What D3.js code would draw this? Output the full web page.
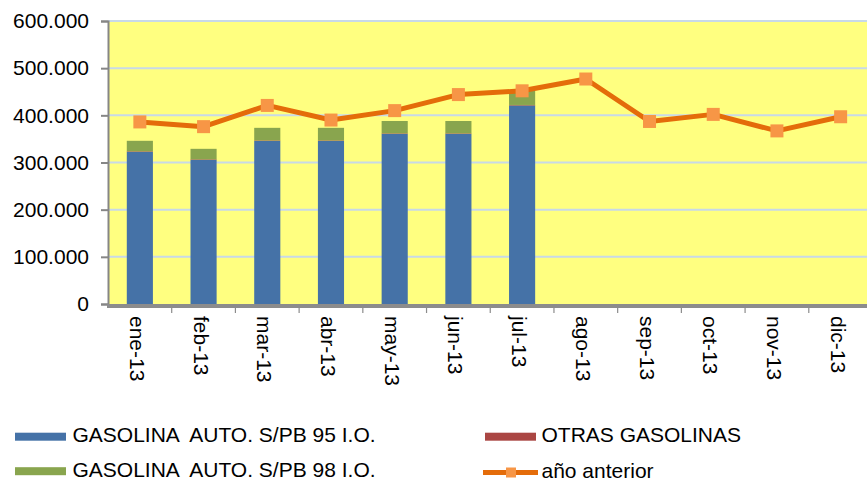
<!DOCTYPE html>
<html>
<head>
<meta charset="utf-8">
<script src="https://cdn.jsdelivr.net/npm/d3@7"></script>
<style>
  html, body { margin: 0; padding: 0; background: #fff; }
  svg { display: block; font-family: "Liberation Sans", Arial, sans-serif; }
  .leg { white-space: pre; }
</style>
</head>
<body>
<svg id="chart" width="867" height="481"></svg>
<script>
// Monthly petrol consumption 2013 vs previous year
const months = ["ene-13","feb-13","mar-13","abr-13","may-13","jun-13","jul-13","ago-13","sep-13","oct-13","nov-13","dic-13"];
const gasolina95 = [323000, 306000, 346000, 346000, 361000, 361000, 421000];
const otras      = [1000, 1000, 1000, 1000, 1000, 1000, 1000];
const gasolina98 = [22000, 22000, 26500, 26500, 26000, 26000, 30000];
const anterior   = [386000, 376000, 421000, 390000, 410000, 444000, 452000, 477000, 387000, 402000, 367000, 397000];
const yTicks     = [0, 100000, 200000, 300000, 400000, 500000, 600000];
const yTickLabels = ["0","100.000","200.000","300.000","400.000","500.000","600.000"];

const seriesNames = ["GASOLINA  AUTO. S/PB 95 I.O.", "OTRAS GASOLINAS", "GASOLINA  AUTO. S/PB 98 I.O.", "año anterior"];
const colors = { g95: "#4572A7", otras: "#AA4643", g98: "#89A54E", line: "#E46C0A", marker: "#F79646" };

const svg = d3.select("#chart");
const plotLeft = 108, plotRight = 872.5, plotTop = 21, plotBottom = 304;
const fontSize = 21;

const x = d3.scaleBand().domain(months).range([plotLeft, plotRight]).paddingInner(0.59).paddingOuter(0.295);
const xBand = d3.scaleBand().domain(months).range([plotLeft, plotRight]);
const y = d3.scaleLinear().domain([0, 600000]).range([plotBottom, plotTop]);

// plot background
svg.append("rect").attr("x", plotLeft).attr("y", plotTop)
  .attr("width", plotRight - plotLeft).attr("height", plotBottom - plotTop)
  .attr("fill", "#FFFF80");

// horizontal gridlines
svg.append("g").selectAll("line").data(yTicks.filter(d => d > 0)).join("line")
  .attr("x1", plotLeft).attr("x2", plotRight)
  .attr("y1", d => y(d)).attr("y2", d => y(d))
  .attr("stroke", "#C8D9E8").attr("stroke-width", 2);

// stacked bars
const stackData = gasolina95.map((v, i) => ({ month: months[i], g95: v, otras: otras[i], g98: gasolina98[i] }));
const stack = d3.stack().keys(["g95", "otras", "g98"])(stackData);
svg.append("g").selectAll("g").data(stack).join("g")
  .attr("fill", d => colors[d.key])
  .selectAll("rect").data(d => d).join("rect")
  .attr("x", d => x(d.data.month))
  .attr("width", x.bandwidth())
  .attr("y", d => y(d[1]))
  .attr("height", d => y(d[0]) - y(d[1]));

// y axis
const yAxis = d3.axisLeft(y).tickValues(yTicks).tickFormat((d, i) => yTickLabels[i]).tickSize(7).tickPadding(12);
const gy = svg.append("g").attr("transform", `translate(${plotLeft},0)`).call(yAxis);
gy.select(".domain").attr("stroke", "#868686").attr("stroke-width", 2);
gy.selectAll(".tick line").attr("stroke", "#868686").attr("stroke-width", 2);
gy.selectAll(".tick text").attr("font-size", fontSize).attr("fill", "#000")
  .attr("font-family", "Liberation Sans, Arial, sans-serif");

// x axis: month labels rotated to read downwards
const xAxis = d3.axisBottom(xBand).tickSize(0).tickFormat(d => d);
const gx = svg.append("g").attr("transform", `translate(0,${plotBottom})`).call(xAxis);
gx.select(".domain").remove();
gx.selectAll(".tick text")
  .attr("font-size", fontSize).attr("fill", "#000")
  .attr("font-family", "Liberation Sans, Arial, sans-serif")
  .attr("text-anchor", "start")
  .attr("dy", null).attr("x", 12).attr("y", 10)
  .attr("transform", "rotate(90)");
// axis baseline and category separators
svg.append("line").attr("x1", plotLeft - 1).attr("x2", plotRight).attr("y1", plotBottom + 2).attr("y2", plotBottom + 2)
  .attr("stroke", "#8C8C8C").attr("stroke-width", 4);
svg.append("g").selectAll("line").data(months.slice(1)).join("line")
  .attr("x1", d => xBand(d)).attr("x2", d => xBand(d))
  .attr("y1", plotBottom + 4).attr("y2", plotBottom + 9)
  .attr("stroke", "#8C8C8C").attr("stroke-width", 1.2);

// previous-year line
const cx = d => xBand(d) + xBand.bandwidth() / 2;
const line = d3.line().x((d, i) => cx(months[i])).y(d => y(d));
svg.append("path").datum(anterior).attr("d", line)
  .attr("fill", "none").attr("stroke", colors.line).attr("stroke-width", 5).attr("stroke-linejoin", "round");
svg.append("g").selectAll("rect").data(anterior).join("rect")
  .attr("x", (d, i) => cx(months[i]) - 6.5).attr("y", d => y(d) - 6.5)
  .attr("width", 13).attr("height", 13).attr("fill", colors.marker);

// legend
const leg = svg.append("g");
const legItems = [
  { name: seriesNames[0], type: "box", color: colors.g95, sx: 15, tx: 72.5, cy: 436.7 },
  { name: seriesNames[1], type: "box", color: colors.otras, sx: 485, tx: 541.5, cy: 436.7 },
  { name: seriesNames[2], type: "box", color: colors.g98, sx: 15, tx: 72.5, cy: 471.2 },
  { name: seriesNames[3], type: "line", color: colors.line, sx: 483, tx: 541.5, cy: 472.5 }
];
legItems.forEach(it => {
  if (it.type === "box") {
    leg.append("rect").attr("x", it.sx).attr("y", it.cy - 4).attr("width", 51).attr("height", 8).attr("fill", it.color);
  } else {
    leg.append("line").attr("x1", it.sx).attr("x2", it.sx + 55).attr("y1", it.cy).attr("y2", it.cy)
      .attr("stroke", it.color).attr("stroke-width", 5);
    leg.append("rect").attr("x", it.sx + 23).attr("y", it.cy - 5).attr("width", 10).attr("height", 10).attr("fill", colors.marker);
  }
  leg.append("text").attr("class", "leg")
    .attr("x", it.tx).attr("y", it.cy + 5.6)
    .attr("font-size", fontSize).attr("fill", "#000")
    .text(it.name);
});
</script>
</body>
</html>
